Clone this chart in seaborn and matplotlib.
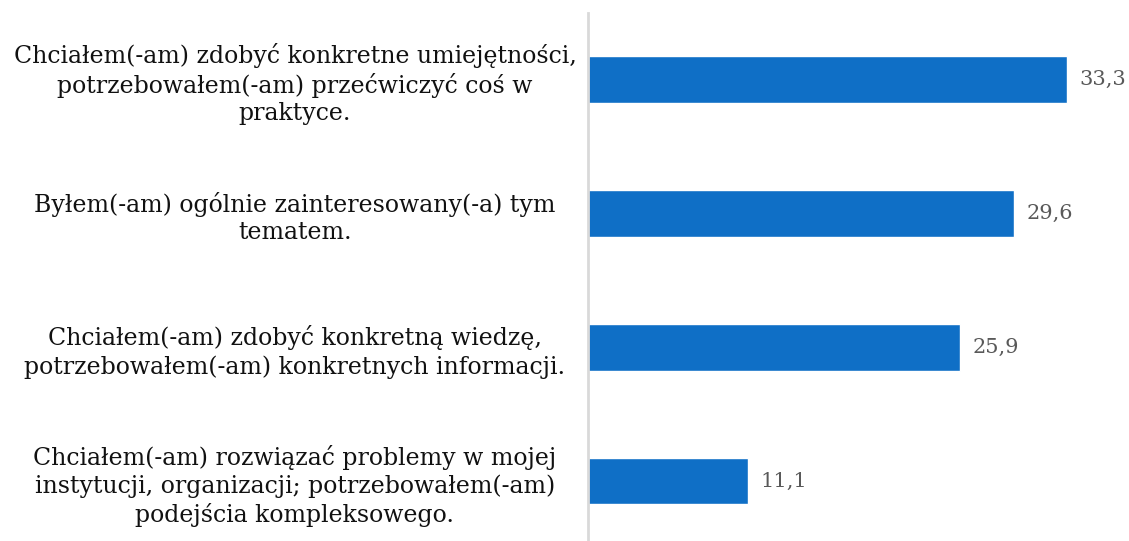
import pandas as pd
import matplotlib
matplotlib.use("Agg")
import matplotlib.pyplot as plt
import seaborn as sns

categories = [
    "Chciałem(-am) zdobyć konkretne umiejętności,\npotrzebowałem(-am) przećwiczyć coś w\npraktyce.",
    "Byłem(-am) ogólnie zainteresowany(-a) tym\ntematem.",
    "Chciałem(-am) zdobyć konkretną wiedzę,\npotrzebowałem(-am) konkretnych informacji.",
    "Chciałem(-am) rozwiązać problemy w mojej\ninstytucji, organizacji; potrzebowałem(-am)\npodejścia kompleksowego.",
]
values = [33.3, 29.6, 25.9, 11.1]

data = pd.DataFrame({"category": categories, "value": values})

sns.set_style("white")
plt.rcParams["font.family"] = ["DejaVu Serif"]

fig = plt.figure(figsize=(11.29, 5.41), dpi=100)
ax = fig.add_axes([588 / 1129, -7 / 541, 1 - 588 / 1129, 535.5 / 541])

sns.barplot(data=data, x="value", y="category", orient="h", color="#0F6FC6",
            saturation=1, width=0.35, ax=ax)

ax.set_xlim(0, (1129 - 588) / 14.38)
ax.set_xlabel("")
ax.set_ylabel("")
ax.set_xticks([])

for s in ["top", "right", "bottom"]:
    ax.spines[s].set_visible(False)
ax.spines["left"].set_color("#D9D9D9")
ax.spines["left"].set_linewidth(2)

# labels centred around x ~ 295 px
ax.tick_params(axis="y", length=0, pad=211)
for lab in ax.get_yticklabels():
    lab.set_horizontalalignment("center")
    lab.set_multialignment("center")
    lab.set_fontsize(17)
    lab.set_linespacing(1.25)
    lab.set_color("#111111")

ax.bar_label(ax.containers[0], labels=[f"{v:.1f}".replace(".", ",") for v in values],
             padding=9, fontsize=15, color="#595959")

fig.savefig("out.png", dpi=100)
